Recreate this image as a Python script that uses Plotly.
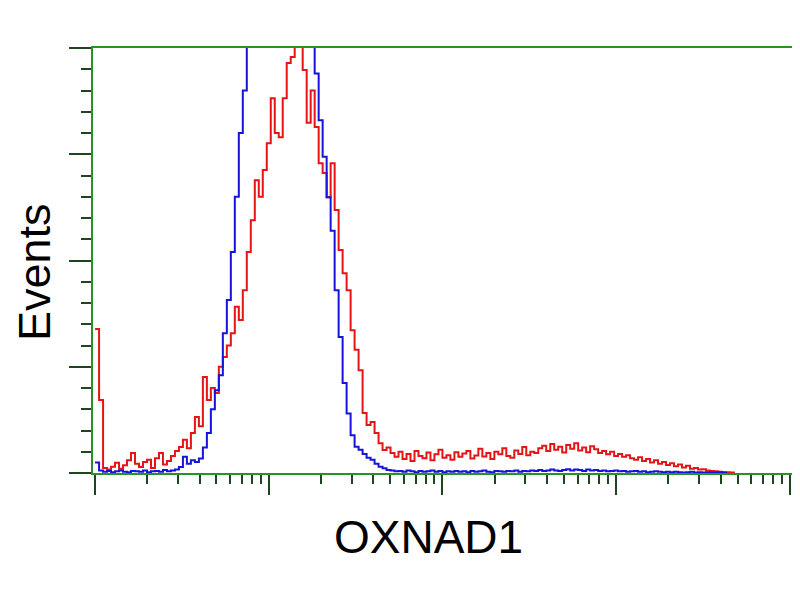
import numpy as np
import plotly.graph_objects as go

# Histogram counts per log channel (174 channels span 4 decades)
blue_counts = [25, 6,
    3, 5, 2, 4, 6, 3, 2, 5, 4, 3, 6, 2, 4, 5, 3, 7, 4, 6, 8,
    14, 38, 22, 30, 26, 34, 60, 94, 150, 195, 230, 329, 407, 520, 650, 800, 900,
    1010, 1100, 1180, 1250, 1300, 1350, 1380, 1400, 1410, 1405, 1390, 1370, 1330,
    1270, 1190, 1100, 1010, 940, 830, 744, 649, 570, 430, 320, 212, 140, 89, 62,
    55, 45, 36, 31, 22, 15, 11, 7,
    6, 4, 5, 3, 6, 4, 2, 5, 3, 4, 6, 3, 5, 2, 4, 3, 5,
    3, 4, 2, 5, 3, 4, 6, 3, 2, 5, 4, 3, 5, 4, 6, 3, 5, 4, 6, 5,
    7, 5, 6, 8, 6, 5, 7, 9, 6, 8, 7, 5, 8, 6, 7, 5, 6, 4, 5, 6,
    4, 5, 3, 4, 5, 3, 4, 2, 3, 4, 3, 2, 3, 2, 3, 2, 1, 2, 3, 1,
    2, 1, 2, 1, 1, 2, 1, 0]

red_counts = [339, 172, 12, 8, 15, 24, 10, 18, 30, 47, 22, 14, 26, 31, 12, 35, 47,
    20, 28, 40, 52, 61, 78, 58, 94, 132, 110, 226, 172, 200, 188, 250, 273, 300,
    329, 391, 360, 430, 520, 595, 689, 650, 713, 776, 882, 800, 790, 882, 965, 979,
    1020, 1030, 948, 824, 900, 814, 729, 706, 649, 729, 619, 525, 470, 430, 336,
    290, 242, 141, 113, 120, 94, 70, 54, 60, 47,
    38, 50, 33, 45, 28, 52, 40, 35, 48, 30, 44, 55, 36, 42, 31, 49, 38, 46, 52, 34,
    41, 57, 39, 47, 33, 50, 44, 58, 40, 36, 53, 45, 61, 42, 50, 47,
    58, 64, 52, 68, 55, 62, 48, 66, 57, 70, 53, 60, 49, 63, 56,
    47, 52, 44, 50, 40, 45, 38, 42, 35, 31, 37, 28, 33, 25, 30, 22, 26, 19, 23, 16,
    20, 13, 17, 10, 12, 8, 9, 6, 5, 4, 3, 2, 2, 1, 0]

channels_per_decade = 43.5
x_title = "OXNAD1"
y_title = "Events"

def chan_to_x(n):
    return 10 ** (np.arange(n) / channels_per_decade)

axis_green = "rgb(40,145,40)"
tick_col = "rgb(30,70,30)"

fig = go.Figure()
fig.add_trace(go.Scatter(x=chan_to_x(len(red_counts)), y=red_counts, mode="lines",
                         line=dict(color="rgb(230,20,20)", width=2, shape="hv"),
                         showlegend=False))
fig.add_trace(go.Scatter(x=chan_to_x(len(blue_counts)), y=blue_counts, mode="lines",
                         line=dict(color="rgb(20,20,220)", width=2, shape="hv"),
                         showlegend=False))

minor_x = [k * 10 ** d for d in range(4) for k in range(2, 10)]

fig.update_layout(
    width=800, height=600,
    paper_bgcolor="white", plot_bgcolor="white",
    margin=dict(l=85, r=13, t=40, b=135),
    xaxis=dict(type="log", range=[-0.012, 4.03], showgrid=False, zeroline=False,
               showline=True, linecolor=axis_green, linewidth=2, mirror=True,
               tickmode="array", tickvals=[1, 10, 100, 1000, 10000],
               showticklabels=False, ticks="outside", ticklen=20, tickwidth=2,
               tickcolor=tick_col,
               minor=dict(tickmode="array", tickvals=minor_x, ticks="outside",
                          ticklen=9, tickwidth=2, tickcolor=tick_col, showgrid=False)),
    yaxis=dict(range=[0, 1000], showgrid=False, zeroline=False,
               showline=True, linecolor=axis_green, linewidth=2, mirror=True,
               tickmode="linear", tick0=0, dtick=250, showticklabels=False,
               ticks="outside", ticklen=22, tickwidth=2, tickcolor=tick_col,
               minor=dict(tickmode="linear", tick0=0, dtick=50, ticks="outside",
                          ticklen=10, tickwidth=2, tickcolor=tick_col, showgrid=False)),
    annotations=[
        dict(text=x_title, xref="paper", yref="paper", x=(428 - 93) / 702, y=-(537 - 473) / 425,
             xanchor="center", yanchor="middle", showarrow=False,
             font=dict(family="Liberation Sans, Arial", size=46, color="black")),
        dict(text=y_title, xref="paper", yref="paper", x=-(93 - 34) / 702, y=(473 - 272) / 425,
             xanchor="center", yanchor="middle", showarrow=False, textangle=-90,
             font=dict(family="Liberation Sans, Arial", size=45, color="black")),
    ],
)

fig.write_html("out.html")
